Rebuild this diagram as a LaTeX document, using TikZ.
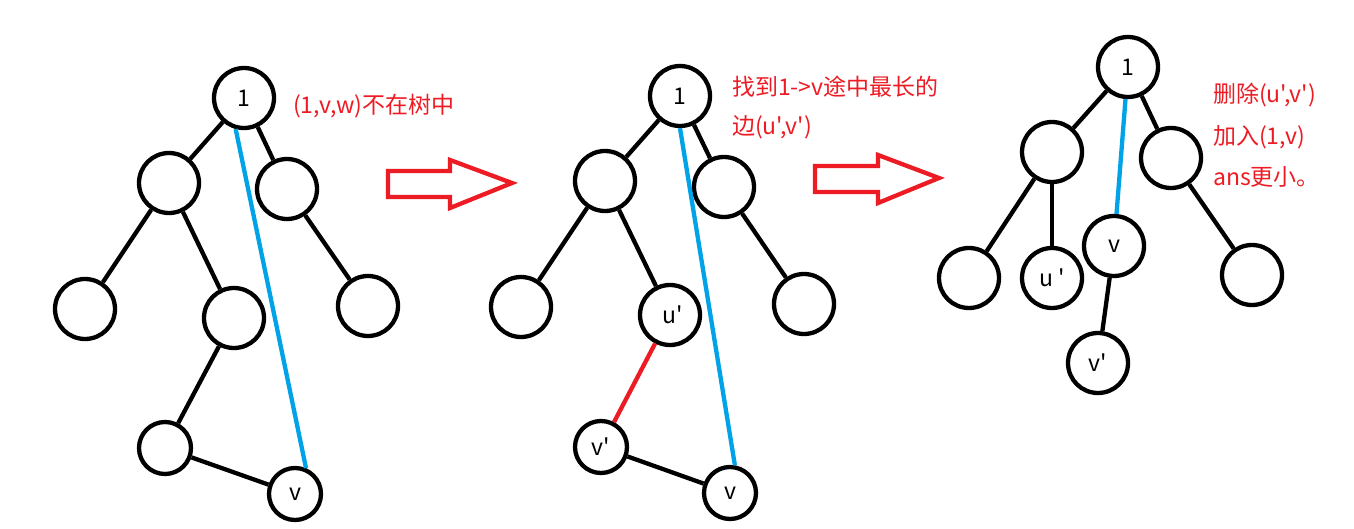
\documentclass[tikz,border=0pt]{standalone}
\usepackage{fontspec}
\newfontfamily\cjk{Noto Sans CJK SC}
\definecolor{pred}{RGB}{237,28,36}
\definecolor{pblue}{RGB}{0,162,232}
\begin{document}
\begin{tikzpicture}[x=1pt,y=-1pt,
  big/.style={circle,draw=black,line width=4.3pt,minimum size=60pt,inner sep=0pt,font=\cjk\fontsize{23}{23}\selectfont},
  small/.style={circle,draw=black,line width=4.3pt,minimum size=52pt,inner sep=0pt,font=\cjk\fontsize{23}{23}\selectfont},
  edge/.style={draw=black,line width=4.3pt},
  bedge/.style={draw=pblue,line width=4.3pt},
  redge/.style={draw=pred,line width=4.3pt},
  note/.style={anchor=west,inner sep=0pt,text=pred,font=\cjk\fontsize{23}{23}\selectfont},
  hollow/.style={draw=pred,line width=4.3pt,line join=miter}]
\useasboundingbox[fill=white] (0,0) rectangle (1354,529);
% panel 1
\node[big] (a1) at (244,98) {1};
\node[big] (a2) at (169,183) {};
\node[big] (a3) at (287,189) {};
\node[big] (a4) at (85,309) {};
\node[big] (a5) at (234,318) {};
\node[big] (a6) at (368,306) {};
\node[small] (a7) at (165,448) {};
\node[small] (a8) at (295,494) {v};
\draw[edge] (a1) -- (a2);
\draw[edge] (a1) -- (a3);
\draw[edge] (a2) -- (a4);
\draw[edge] (a2) -- (a5);
\draw[edge] (a3) -- (a6);
\draw[edge] (a5) -- (a7);
\draw[edge] (a7) -- (a8);
\draw[bedge] (a1.-105) -- (a8.67);
\node[note] (t1) at (293,106) {(1,v,w)不在树中};
% arrow 1
\coordinate (p1) at (388,171);
\draw[hollow] (p1) -- (450,171) -- (450,160) -- (512,183) -- (450,208) -- (450,197) -- (388,197) -- cycle;
% panel 2
\node[big] (b1) at (680,96) {1};
\node[big] (b2) at (605,181) {};
\node[big] (b3) at (724,187) {};
\node[big] (b4) at (521,307) {};
\node[big] (b5) at (670,315) {\hspace{6pt}u'};
\node[big] (b6) at (804,304) {};
\node[small] (b7) at (601,447) {v'};
\node[small] (b8) at (730,493) {v};
\draw[edge] (b1) -- (b2);
\draw[edge] (b1) -- (b3);
\draw[edge] (b2) -- (b4);
\draw[edge] (b2) -- (b5);
\draw[edge] (b3) -- (b6);
\draw[redge] (b5) -- (b7);
\draw[edge] (b7) -- (b8);
\draw[bedge] (b1.-90) -- (b8.80);
\node[note] (t2) at (732,87) {找到1->v途中最长的};
\node[note] (t3) at (732,127) {边(u',v')};
% arrow 2
\coordinate (p2) at (815,166);
\draw[hollow] (p2) -- (878,166) -- (878,155) -- (939,178) -- (878,203) -- (878,192) -- (815,192) -- cycle;
% panel 3
\node[big] (c1) at (1128,67) {1};
\node[big] (c2) at (1052,152) {};
\node[big] (c3) at (1171,158) {};
\node[big] (c4) at (969,278) {};
\node[big] (c5) at (1052,278) {u '};
\node[big] (c6) at (1114,246) {v};
\node[big] (c7) at (1252,275) {};
\node[big] (c8) at (1098,363) {v'};
\draw[edge] (c1) -- (c2);
\draw[edge] (c1) -- (c3);
\draw[edge] (c2) -- (c4);
\draw[edge] (c2) -- (c5);
\draw[edge] (c3) -- (c7);
\draw[edge] (c6) -- (c8);
\draw[bedge] (c1) -- (c6);
\node[note] (t4) at (1213,95) {删除(u',v')};
\node[note] (t5) at (1213,137) {加入(1,v)};
\node[note] (t6) at (1213,177) {ans更小。};
\end{tikzpicture}
\end{document}
